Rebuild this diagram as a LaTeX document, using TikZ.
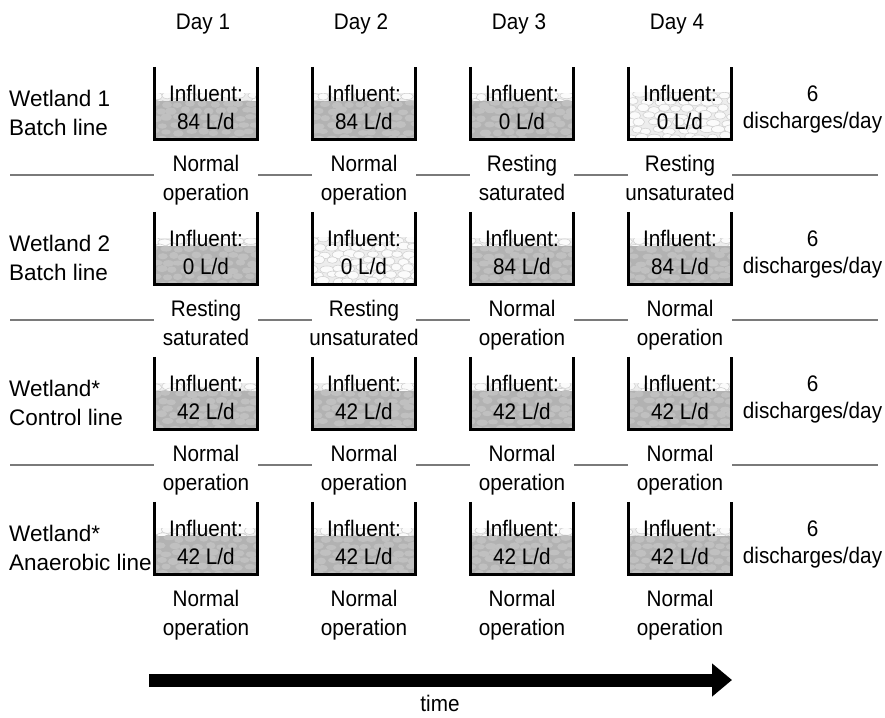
\documentclass[tikz,border=0pt]{standalone}
\usepackage{fontspec}
\setmainfont{Liberation Sans}[FakeStretch=0.92]
\newfontfamily\widesans{Liberation Sans}
\usetikzlibrary{arrows.meta}
\definecolor{wetgrey}{HTML}{B2B2B2}
\definecolor{wetstone}{HTML}{C0C0C0}
\definecolor{dryback}{HTML}{EDEDED}
\definecolor{drystone}{HTML}{FBFBFB}
\definecolor{dryedge}{HTML}{D2D2D2}
\definecolor{sepgrey}{HTML}{7A7A7A}
% gravel bed: #1 left, #2 right, #3 top of bed, #4 bottom, #5 water level (or n)
\newcommand\gravelbed[5]{%
  \begin{scope}
    \clip (#1,#3) rectangle (#2,#4);
    \fill[dryback] (#1,#3) rectangle (#2,#4);
    \foreach \j in {0,...,7}{
      \foreach \i in {0,...,9}{
        \pgfmathsetmacro\gx{#1+\i*12+mod(\j,2)*6+rand*2.5}
        \pgfmathsetmacro\gy{#3+3+\j*7+rand*1.5}
        \pgfmathsetmacro\ga{5+rnd*2}
        \pgfmathsetmacro\gb{3+rnd*1.2}
        \draw[dryedge,fill=drystone,line width=0.6pt] (\gx,\gy) ellipse ({\ga} and {\gb});
      }
    }
    \ifx#5n\else
      \fill[wetgrey] (#1,#5) rectangle (#2,#4);
      \foreach \j in {0,...,6}{
        \foreach \i in {0,...,9}{
          \pgfmathsetmacro\gx{#1+\i*12+mod(\j,2)*6+rand*2.5}
          \pgfmathsetmacro\gy{#5+3+\j*7+rand*1.5}
          \pgfmathsetmacro\ga{4.5+rnd*1.5}
          \pgfmathsetmacro\gb{2.6+rnd*1}
          \fill[wetstone] (\gx,\gy) ellipse ({\ga} and {\gb});
        }
      }
    \fi
  \end{scope}}
\begin{document}
\begin{tikzpicture}[x=1pt,y=-1pt,
  every node/.style={font=\fontsize{22.5}{29}\selectfont, inner sep=0pt},
  tank/.style={minimum width=102pt, minimum height=72pt, draw=none},
  wall/.style={line width=2.8pt, black},
  sep/.style={line width=1.8pt, sepgrey},
  txt/.style={anchor=base},
  side/.style={anchor=base west, font=\fontsize{22.5}{29}\widesans}]
\pgfmathsetseed{11}
\useasboundingbox (0,0) rectangle (885,717);
\fill[white] (0,0) rectangle (885,717);

% day headings
\foreach \c/\x in {1/206,2/364,3/522,4/680}
  \node[txt] (day\c) at (\x-3,30) {Day \c};

% tanks: row/column/state/influent/status line 1/status line 2
\foreach \r/\c/\s/\v/\sa/\sb in {
  1/1/N/84/Normal/operation,
  1/2/N/84/Normal/operation,
  1/3/S/0/Resting/saturated,
  1/4/U/0/Resting/unsaturated,
  2/1/S/0/Resting/saturated,
  2/2/U/0/Resting/unsaturated,
  2/3/N/84/Normal/operation,
  2/4/N/84/Normal/operation,
  3/1/N/42/Normal/operation,
  3/2/N/42/Normal/operation,
  3/3/N/42/Normal/operation,
  3/4/N/42/Normal/operation,
  4/1/N/42/Normal/operation,
  4/2/N/42/Normal/operation,
  4/3/N/42/Normal/operation,
  4/4/N/42/Normal/operation}{
  \pgfmathsetmacro\xc{206+(\c-1)*158}
  \pgfmathsetmacro\yt{67+(\r-1)*145}
  \pgfmathsetmacro\xl{\xc-51}
  \pgfmathsetmacro\xr{\xc+51}
  \pgfmathsetmacro\yb{\yt+72}
  \if\s U
    \gravelbed{\xl}{\xr}{\yt+25}{\yb}{n}
  \else
    \pgfmathsetmacro\yw{\yt+34}
    \gravelbed{\xl}{\xr}{\yt+26}{\yb}{\yw}
  \fi
  \node[tank] (t\r\c) at (\xc,\yt+36) {};
  \draw[wall] (t\r\c.north west) -- (t\r\c.south west) -- (t\r\c.south east) -- (t\r\c.north east);
  \node[txt] (in\r\c) at (\xc,\yt+34) {Influent:};
  \node[txt] (q\r\c) at (\xc,\yt+62) {\v\ L/d};
  \node[txt] (sa\r\c) at (\xc,\yt+104) {\sa};
  \node[txt] (sb\r\c) at (\xc,\yt+133) {\sb};
}

% separators between the rows
\foreach \r in {1,2,3}{
  \pgfmathsetmacro\ys{67+(\r-1)*145+108}
  \draw[sep] (10,\ys) -- (154,\ys);
  \draw[sep] (258,\ys) -- (312,\ys);
  \draw[sep] (416,\ys) -- (470,\ys);
  \draw[sep] (574,\ys) -- (628,\ys);
  \draw[sep] (732,\ys) -- (878,\ys);
}

% line names
\node[side] (w1) at (9,106) {Wetland 1};
\node[side] (b1) at (9,135) {Batch line};
\node[side] (w2) at (9,251) {Wetland 2};
\node[side] (b2) at (9,280) {Batch line};
\node[side] (w3) at (9,396) {Wetland*};
\node[side] (b3) at (9,425) {Control line};
\node[side] (w4) at (9,541) {Wetland*};
\node[side] (b4) at (9,570) {Anaerobic line};

% discharge frequency
\foreach \r in {1,2,3,4}{
  \pgfmathsetmacro\yt{67+(\r-1)*145}
  \node[txt] (n\r) at (812.5,\yt+34) {6};
  \node[txt] (d\r) at (812.5,\yt+61) {discharges/day};
}

% time axis
\coordinate (ta) at (149,680);
\coordinate (tb) at (732,680);
\draw[line width=13pt, -{Triangle[length=20pt,width=32pt]}] (ta) -- (tb);
\node[txt] (time) at (440,711) {time};
\end{tikzpicture}
\end{document}
